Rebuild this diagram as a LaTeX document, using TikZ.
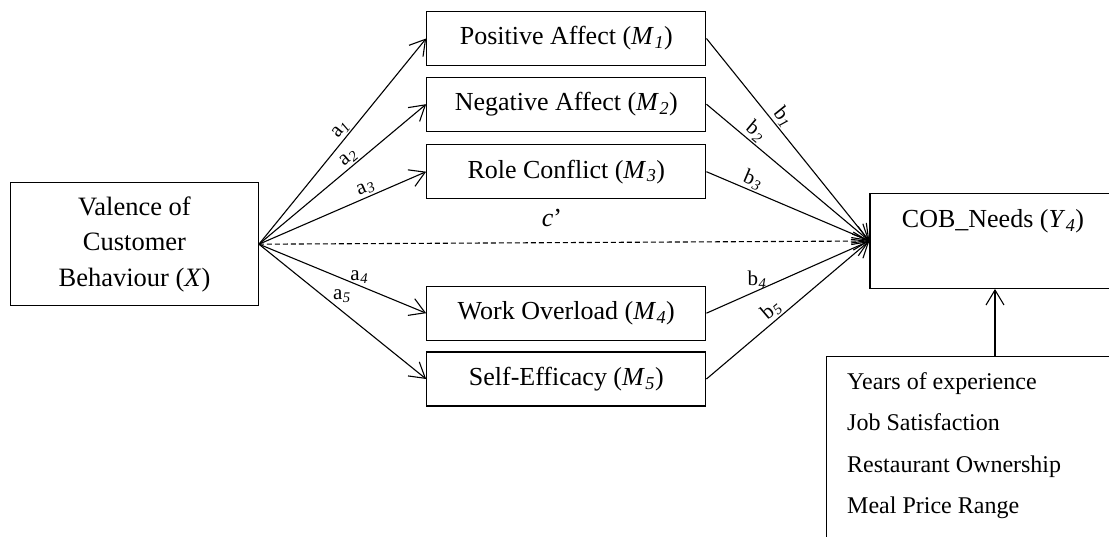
\documentclass[tikz,border=0pt]{standalone}
\usepackage{fontspec}
\setmainfont{Liberation Serif}
\usetikzlibrary{arrows.meta}
\newcommand{\idx}[1]{\kern0.5pt\textsubscript{\itshape #1}}
\begin{document}
\begin{tikzpicture}[x=1pt,y=-1pt,
  box/.style={draw, line width=1.3pt, minimum width=279pt, minimum height=54pt,
              inner sep=0pt, font=\fontsize{26}{30}\selectfont},
  frame/.style={draw, line width=1.3pt, inner sep=0pt},
  arr/.style={line width=1.1pt, -{Straight Barb[length=15pt,width=18pt,line width=1.1pt]}},
  lab/.style={font=\fontsize{21}{22}\selectfont, inner sep=0.5pt, outer sep=1.5pt},
  txt/.style={font=\fontsize{26}{30}\selectfont, inner sep=0pt}]
\useasboundingbox (0,0) rectangle (1109,537);
\clip (0,0) rectangle (1109,537);

% independent variable
\node[box, minimum width=247.6pt, minimum height=123pt, align=center,
      font=\fontsize{26.5}{35.5}\selectfont] (X) at (134.5,244.2)
      {Valence of\\Customer\\Behaviour (\textit{X})};

% mediators
\node[box] (M1) at (566.3,38.5)  {Positive Affect (\textit{M}\idx{1})};
\node[box] (M2) at (566.3,104.2) {Negative Affect (\textit{M}\idx{2})};
\node[box] (M3) at (566.3,171.7) {Role Conflict (\textit{M}\idx{3})};
\node[box] (M4) at (566.3,313.2) {Work Overload (\textit{M}\idx{4})};
\node[box] (M5) at (566.3,379)   {Self-Efficacy (\textit{M}\idx{5})};

% outcome
\node[frame, minimum width=250pt, minimum height=94.6pt] (Y) at (995,241) {};
\node[txt, anchor=base] (Ytxt) at (993,228)
      {COB\_Needs (\textit{Y}\idx{4})};

% covariates
\node[frame, minimum width=340pt, minimum height=220pt, anchor=north west] (C) at (826,356) {};
\foreach \t [count=\i] in {Years of experience, Job Satisfaction, Restaurant Ownership, Meal Price Range}
  \node[txt, font=\fontsize{24}{28}\selectfont, anchor=base west] (c\i) at (847,{389+41.5*(\i-1)}) {\t};

% a paths
\draw[arr] (X.east) -- node[lab, sloped, above, pos=.53] {a\idx{1}} (M1.west);
\draw[arr] (X.east) -- node[lab, sloped, above, pos=.57] {a\idx{2}} (M2.west);
\draw[arr] (X.east) -- node[lab, sloped, above, pos=.66] {a\idx{3}} (M3.west);
\draw[arr] (X.east) -- node[lab, above, pos=.6] {a\idx{4}} (M4.west);
\draw[arr] (X.east) -- node[lab, anchor=south west, pos=.44, outer sep=0pt] {a\idx{5}} (M5.west);

% direct effect
\draw[arr, dash pattern=on 5pt off 3pt] (X.east) --
      node[txt, above=15pt, pos=.48] {\textit{c}’} (Y.west);

% b paths
\draw[arr] (M1.east) -- node[lab, sloped, above, pos=.42] {b\idx{1}} (Y.west);
\draw[arr] (M2.east) -- node[lab, sloped, above, pos=.26] {b\idx{2}} (Y.west);
\draw[arr] (M3.east) -- node[lab, sloped, above, pos=.26] {b\idx{3}} (Y.west);
\draw[arr] (M4.east) -- node[lab, above, pos=.31] {b\idx{4}} (Y.west);
\draw[arr] (M5.east) -- node[lab, sloped, above, pos=.44] {b\idx{5}} (Y.west);

% covariates to outcome
\draw[arr] (C.north -| Y.south) -- (Y.south);
\end{tikzpicture}
\end{document}
